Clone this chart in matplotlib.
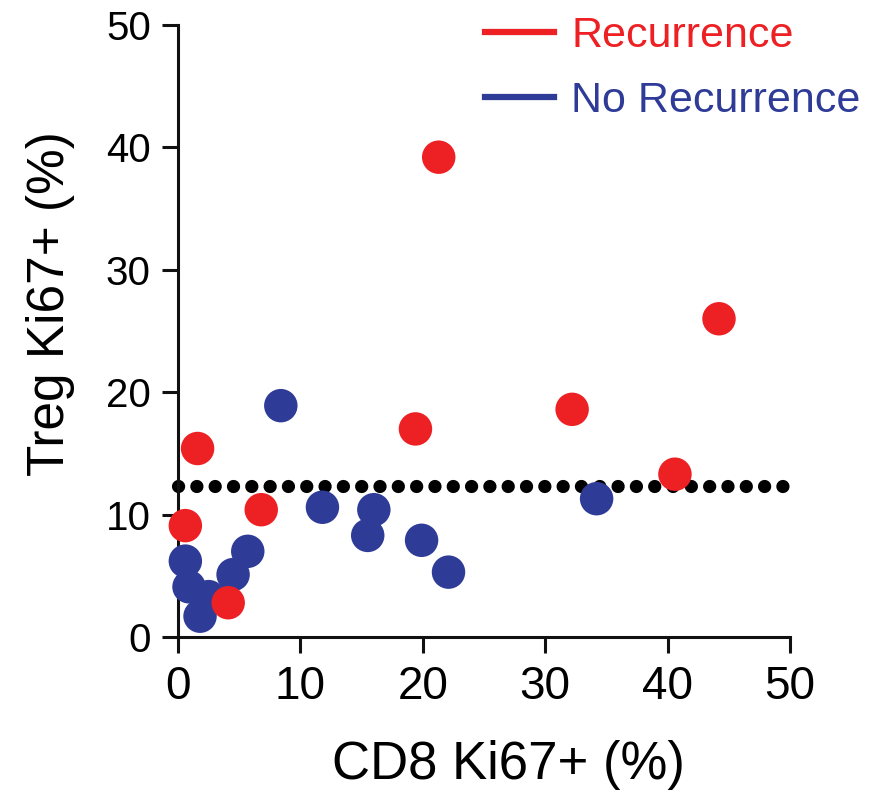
import matplotlib
matplotlib.use("Agg")
import matplotlib.pyplot as plt
from matplotlib.lines import Line2D

# CD8 Ki67+ (%) vs Treg Ki67+ (%) per patient
rec_cd8 = [21.3, 44.2, 32.2, 19.4, 1.6, 40.6, 6.8, 0.6, 4.1]
rec_treg = [39.2, 26.0, 18.6, 17.0, 15.4, 13.3, 10.4, 9.1, 2.8]

norec_cd8 = [8.4, 11.8, 16.0, 15.5, 19.9, 22.1, 34.2, 5.7, 4.5, 0.6, 0.9, 2.5, 1.8]
norec_treg = [18.9, 10.6, 10.4, 8.3, 7.9, 5.3, 11.3, 7.0, 5.1, 6.2, 4.1, 3.3, 1.7]

threshold = 12.3
threshold_span = [0, 49.7]

ticks = [0, 10, 20, 30, 40, 50]
series_labels = ["Recurrence", "No Recurrence"]

RED = "#ED2024"
BLUE = "#2E3B97"

plt.rcParams["font.family"] = ["Liberation Sans", "DejaVu Sans"]

W, H = 879, 795
fig = plt.figure(figsize=(W / 100, H / 100), dpi=100)
ax = fig.add_axes([178 / W, (H - 637) / H, (790 - 178) / W, (637 - 25) / H])

# cutoff line drawn as a row of round dots
ax.plot(threshold_span, [threshold, threshold], color="black", lw=9.5,
        dashes=(0.01, 1.378), dash_capstyle="round", solid_capstyle="round",
        zorder=2, clip_on=False)

ax.scatter(norec_cd8, norec_treg, s=580, color=BLUE, edgecolors="none",
           zorder=3, clip_on=False)
ax.scatter(rec_cd8, rec_treg, s=580, color=RED, edgecolors="none",
           zorder=4, clip_on=False)

ax.set_xlim(0, 50)
ax.set_ylim(0, 50)
ax.set_xticks(ticks)
ax.set_yticks(ticks)
ax.tick_params(axis="both", direction="out", length=11.5, width=2.2,
               color="#111111")
ax.tick_params(axis="x", labelsize=33, pad=9)
ax.tick_params(axis="y", labelsize=29, pad=8)

for side in ("top", "right"):
    ax.spines[side].set_visible(False)
for side in ("left", "bottom"):
    ax.spines[side].set_linewidth(2.2)
    ax.spines[side].set_color("#111111")

ax.set_xlabel("CD8 Ki67+ (%)", fontsize=38)
ax.set_ylabel("Treg Ki67+ (%)", fontsize=37)
ax.xaxis.set_label_coords(0.54, -0.209)
ax.xaxis.label.set_va("center")
ax.yaxis.set_label_coords(-0.209, 0.545)
ax.yaxis.label.set_va("center")

handles = [Line2D([0], [0], color=RED, lw=4.5),
           Line2D([0], [0], color=BLUE, lw=4.5)]
leg = fig.legend(handles, series_labels, loc="upper left",
                 bbox_to_anchor=(485 / W, 1 - 16 / H),
                 frameon=False, fontsize=31, handlelength=1.6,
                 handletextpad=0.4, borderpad=0, borderaxespad=0,
                 labelspacing=0.58,
                 labelcolor=[RED, BLUE])

fig.savefig("out.png", dpi=100)
